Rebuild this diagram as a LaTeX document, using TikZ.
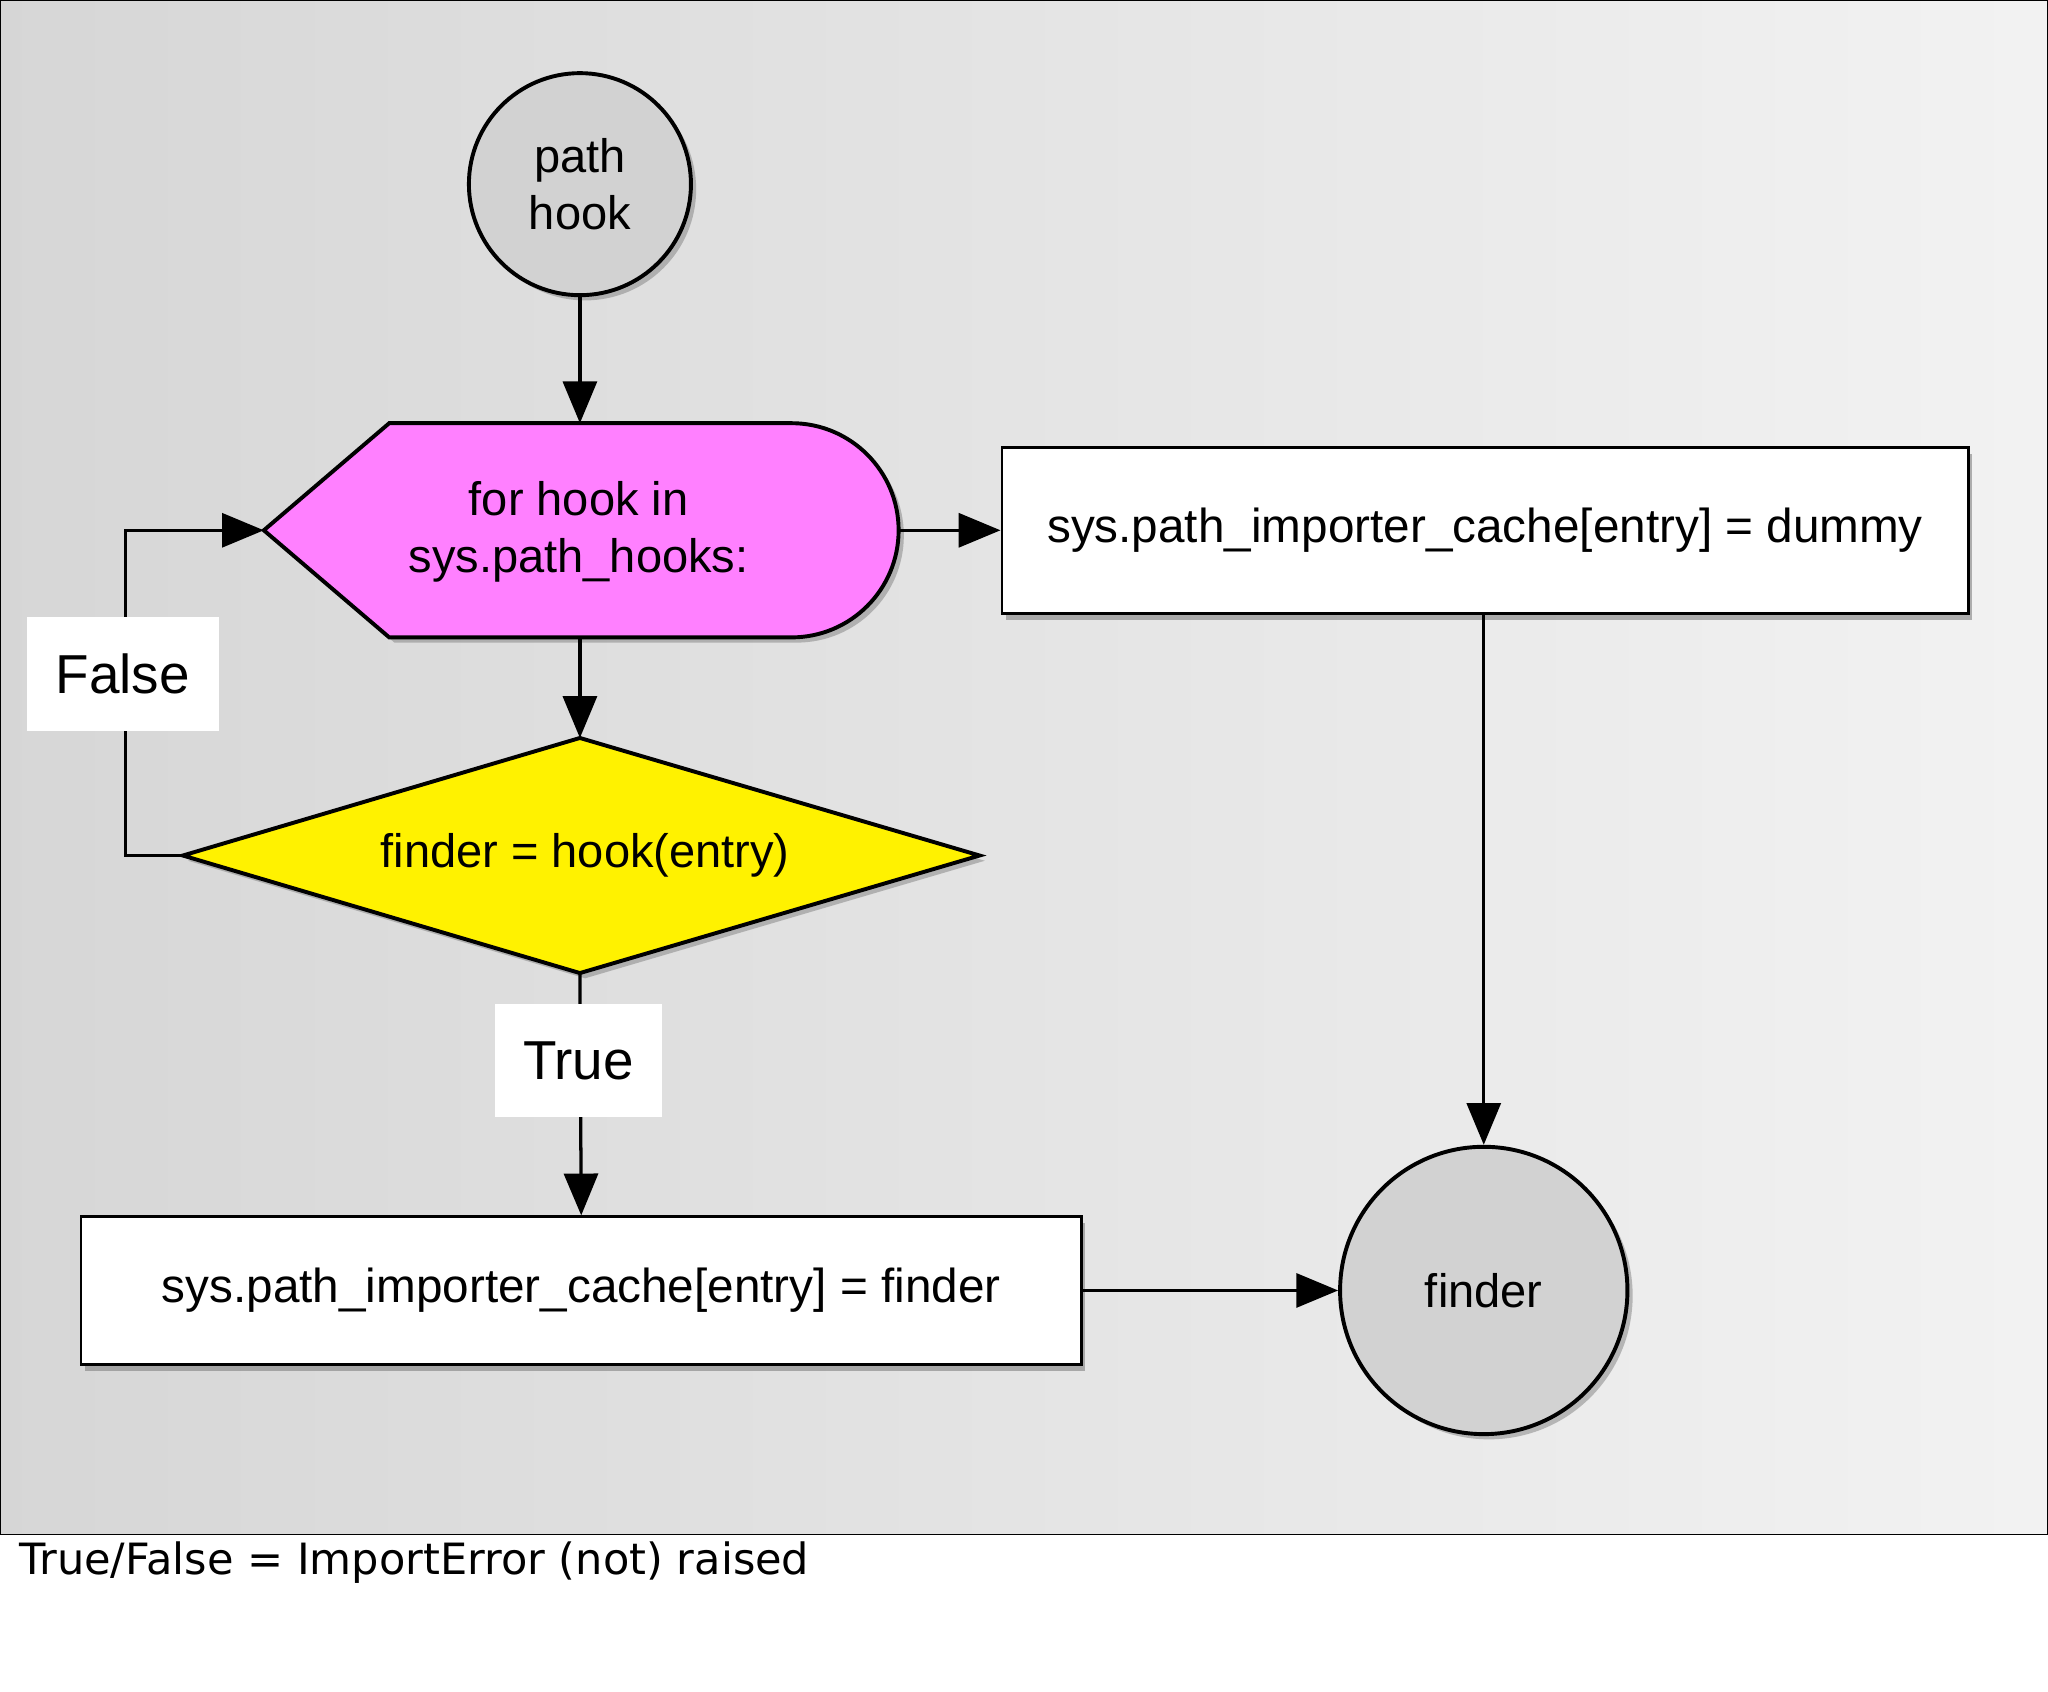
\documentclass[tikz,border=0pt]{standalone}
\usepackage{fontspec}
\setmainfont{Liberation Sans}
\newfontfamily\capfont{DejaVu Sans}
\usetikzlibrary{arrows.meta,shadows,shapes.geometric}
\begin{document}
\begin{tikzpicture}[x=1pt,y=-1pt,
  line width=3pt,
  arr/.style={-{Triangle[length=32pt,width=26pt]},line width=2.5pt},
  circ/.style={circle,draw,fill=gray!35,line width=3pt,font=\fontsize{36}{44}\selectfont,align=center,drop shadow={shadow xshift=4pt,shadow yshift=-4pt,opacity=0.5}},
  box/.style={rectangle,draw,fill=white,line width=2pt,font=\fontsize{36.5}{42}\selectfont,drop shadow={shadow xshift=3pt,shadow yshift=-5pt,opacity=0.6}},
  lbl/.style={rectangle,fill=white,font=\fontsize{42}{48}\selectfont}]
\useasboundingbox (0,0) rectangle (1568,1295);
\shade[left color=gray!32,right color=gray!10] (0,0) rectangle (1568,1175);
\draw[line width=1pt] (0,0) rectangle (1568,1175);
\node[anchor=west,font=\capfont\fontsize{33}{38}\selectfont] (cap) at (10,1196) {True/False = ImportError (not) raised};

\node[circ,minimum size=170pt] (ph) at (444,141) {path\\hook};
\filldraw[fill={rgb,255:red,255;green,128;blue,255},drop shadow={shadow xshift=4pt,shadow yshift=-4pt,opacity=0.5}]
  (202,406) -- (298,324) -- (606,324) arc[start angle=-90,end angle=90,radius=82] -- (298,488) -- cycle;
\node[font=\fontsize{36}{44}\selectfont,align=center] (pk) at (443,407) {for hook in\\sys.path\_hooks:};
\coordinate (pkT) at (444,324); \coordinate (pkB) at (444,488);
\coordinate (pkR) at (688,406); \coordinate (pkL) at (202,406);
\node[box,minimum width=740pt,minimum height=127pt] (b1) at (1137,406) {sys.path\_importer\_cache[entry] = dummy};
\filldraw[fill=yellow,drop shadow={shadow xshift=4pt,shadow yshift=-4pt,opacity=0.5}]
  (444,565) -- (750,655) -- (444,745) -- (140,655) -- cycle;
\node[font=\fontsize{36}{42}\selectfont] (dm) at (448,655) {finder = hook(entry)};
\coordinate (dT) at (444,565); \coordinate (dB) at (444,745); \coordinate (dL) at (140,655);
\node[box,minimum width=766pt,minimum height=113pt] (b2) at (445,988) {sys.path\_importer\_cache[entry] = finder};
\node[circ,minimum size=220pt] (fd) at (1136,988) {finder};

\draw[arr] (ph) -- (pkT);
\draw[arr] (pkR) -- (b1.west);
\draw[arr] (pkB) -- (dT);
\draw[arr] (b1.south -| fd.north) -- (fd.north);
\draw[arr] (dL) -- (96,655) -- (96,406) -- (pkL);
\draw[arr] (dB) -- (b2.north);
\draw[arr] (b2.east) -- (fd.west);
\node[lbl,minimum width=147pt,minimum height=87pt] (lf) at (94,516) {False};
\node[lbl,minimum width=128pt,minimum height=87pt] (lt) at (443,812) {True};
\end{tikzpicture}
\end{document}
